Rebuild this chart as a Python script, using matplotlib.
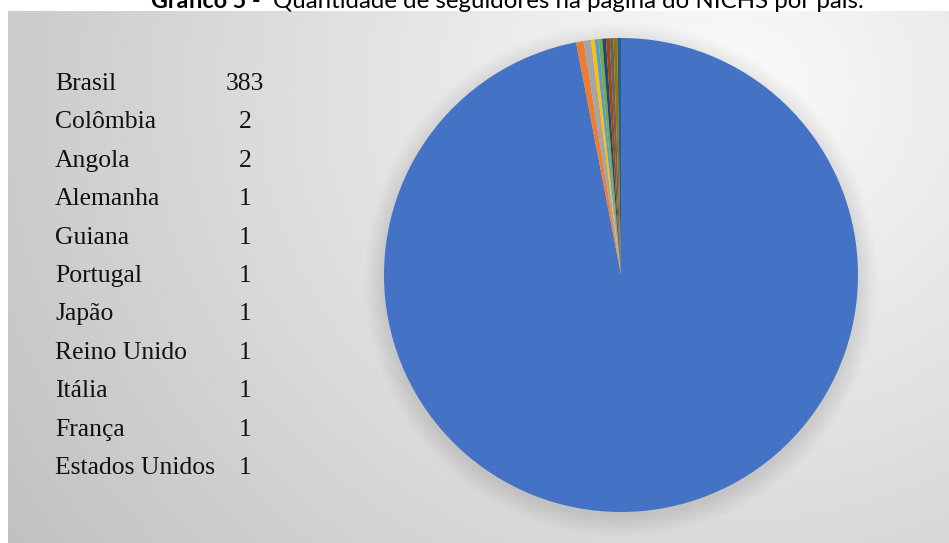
import numpy as np
import matplotlib
matplotlib.use('Agg')
import matplotlib.pyplot as plt
from matplotlib.patches import Circle

paises = ["Brasil", "Colômbia", "Angola", "Alemanha", "Guiana", "Portugal",
          "Japão", "Reino Unido", "Itália", "França", "Estados Unidos"]
seguidores = [383, 2, 2, 1, 1, 1, 1, 1, 1, 1, 1]
cores = ["#4472C4", "#ED7D31", "#A5A5A5", "#FFC000", "#5B9BD5", "#70AD47",
         "#264478", "#9E480E", "#636363", "#997300", "#255E91"]

W, H = 949, 543
fig = plt.figure(figsize=(W / 100, H / 100), dpi=100)
fig.patch.set_facecolor("white")

# background panel with a soft radial gradient
bg = fig.add_axes([8 / W, 0, (W - 8) / W, (H - 11) / H])
yy, xx = np.mgrid[11:H, 8:W]
d = np.hypot(xx - 730, (yy - 90) * 1.1)
v = np.clip(0.985 - 2.6e-4 * d, 0.75, 1)
bg.imshow(np.dstack([v, v, v]), aspect="auto", extent=[0, 1, 0, 1])
bg.set_axis_off()

# pie
cx, cy, r = 621, 275, 237
pad = 40
ax = fig.add_axes([(cx - r - pad) / W, (H - cy - r - pad) / H,
                   (2 * r + 2 * pad) / W, (2 * r + 2 * pad) / H])
lim = 1 + pad / r
ax.set_aspect("equal")
ax.set_axis_off()
# soft shadow
for k in range(25):
    rr = 1 + 0.0035 * k
    ax.add_patch(Circle((0.0, -0.02), rr, color="black", alpha=0.005, lw=0))
ax.pie(seguidores, colors=cores, startangle=90, counterclock=False,
       radius=1, wedgeprops=dict(linewidth=0))
ax.set_xlim(-lim, lim)
ax.set_ylim(-lim, lim)

# title (cut at the top, as in the source)
renderer = fig.canvas.get_renderer()
t1 = fig.text(151 / W, 1 - 8 / H, "Gráfico 5 -", fontsize=15, fontweight="bold",
              family="Lato", va="baseline", ha="left")
t2 = fig.text(273 / W, 1 - 8 / H, "Quantidade de seguidores na página do NICHS por país.",
              fontsize=15, family="Lato", va="baseline", ha="left")
w2 = t2.get_window_extent(renderer).width
t2.set_fontsize(15 * 590 / w2)
w1 = t1.get_window_extent(renderer).width
t1.set_fontsize(15 * 110 / w1)

# table of values
y0, dy = 84, 38.4
fs = 17
probe = fig.text(0, 0, "Estados Unidos", fontsize=fs, family="Liberation Serif")
fs = fs * 160 / probe.get_window_extent(renderer).width
probe.remove()
for i, (p, n) in enumerate(zip(paises, seguidores)):
    y = 1 - (y0 + i * dy) / H
    fig.text(55 / W, y, p, fontsize=fs, family="Liberation Serif",
             va="center", ha="left", color="#111111")
    fig.text(245 / W, y, str(n), fontsize=fs, family="Liberation Serif",
             va="center", ha="center", color="#111111")

fig.savefig("out.png", dpi=100)
